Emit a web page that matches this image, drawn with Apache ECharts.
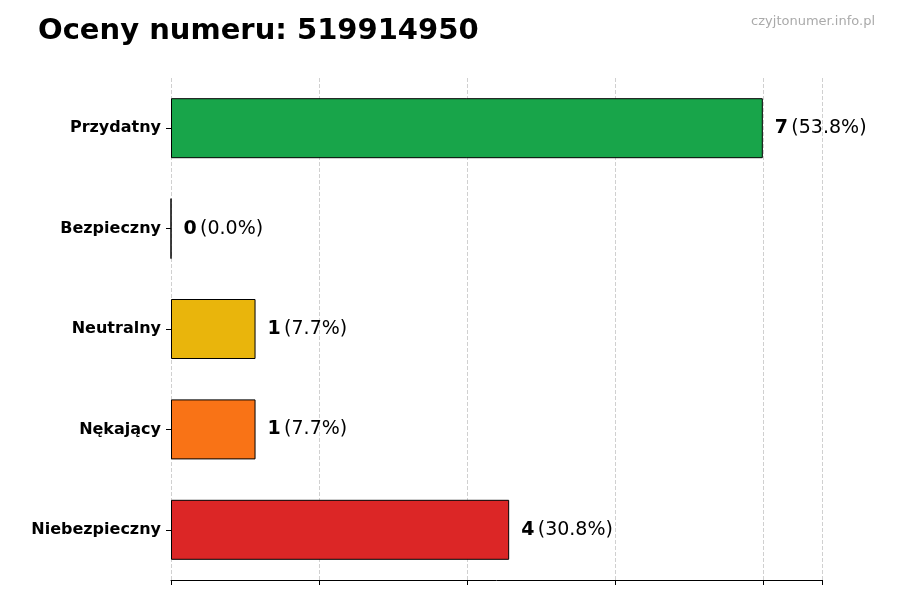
<!DOCTYPE html>
<html><head><meta charset="utf-8">
<script src="https://cdn.jsdelivr.net/npm/echarts@6/dist/echarts.min.js"></script>
<style>html,body{margin:0;padding:0;background:#fff}#c{width:900px;height:600px}</style>
</head><body><div id="c"></div>
<script>
const categories = ['Niebezpieczny', 'Nękający', 'Neutralny', 'Bezpieczny', 'Przydatny'];
const counts = [4, 1, 1, 0, 7];
const percents = ['30.8%', '7.7%', '7.7%', '0.0%', '53.8%'];
const colors = ['#dc2626', '#f97316', '#e9b50c', '#9ca3af', '#18a54a'];

const chart = echarts.init(document.getElementById('c'));
chart.setOption({
  animation: false,
  title: [
    {text: 'Oceny numeru: 519914950', left: 33, top: 12,
     textStyle: {fontFamily: 'DejaVu Sans', fontWeight: 'bold', fontSize: 29, color: '#000'}},
    {text: 'czyjtonumer.info.pl', right: 20, top: 10,
     textStyle: {fontFamily: 'DejaVu Sans', fontWeight: 'normal', fontSize: 13, color: '#aaa'}}
  ],
  grid: {left: 171, right: 78, top: 78, bottom: 20, containLabel: false},
  xAxis: {
    type: 'value', min: 0, max: 7.7, interval: 1.75,
    axisLabel: {show: false},
    axisLine: {show: true, lineStyle: {color: '#000'}},
    axisTick: {show: true, length: 5, lineStyle: {color: '#000'}},
    splitLine: {show: true, lineStyle: {type: 'dashed', color: '#d0d0d0'}}
  },
  yAxis: {
    type: 'category', data: categories,
    axisLine: {show: false},
    axisTick: {show: true, length: 5, alignWithLabel: true, lineStyle: {color: '#000'}},
    axisLabel: {fontFamily: 'DejaVu Sans', fontWeight: 'bold', fontSize: 16, color: '#000', margin: 10}
  },
  series: [{
    type: 'bar', barWidth: 60,
    data: counts.map((v, i) => ({value: v, itemStyle: {color: colors[i]}})),
    itemStyle: {borderColor: '#000', borderWidth: 1},
    label: {
      show: true, position: 'right', distance: 12,
      formatter: p => '{b|' + counts[p.dataIndex] + '} {n|(' + percents[p.dataIndex] + ')}',
      rich: {
        b: {fontFamily: 'DejaVu Sans', fontWeight: 'bold', fontSize: 19, color: '#000'},
        n: {fontFamily: 'DejaVu Sans', fontSize: 19, color: '#000'}
      }
    }
  }]
});
</script></body></html>
